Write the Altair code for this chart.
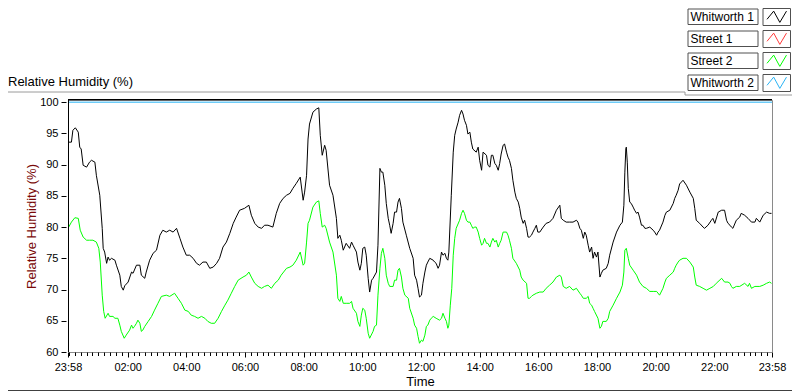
import altair as alt
import pandas as pd

# ---------------- data ----------------
series_names = ["Whitworth 1", "Street 1", "Street 2", "Whitworth 2"]
series_colors = ["#000000", "#ff3b3b", "#00ff00", "#2ab4f5"]

x_tick_labels = ["23:58", "02:00", "04:00", "06:00", "08:00", "10:00", "12:00",
                 "14:00", "16:00", "18:00", "20:00", "22:00", "23:58"]
y_ticks = [60, 65, 70, 75, 80, 85, 90, 95, 100]

# (minutes after 23:58 start, relative humidity %)
whitworth1 = [
    (0, 93.6), (7, 93.6), (10, 95.5), (15, 95.9), (21, 95.2), (24, 92.8), (27, 92.5), (31, 89.9),
    (38, 89.6), (44, 90.4), (48, 90.7), (55, 90.4), (58, 88.3), (65, 85.1), (70, 79.8), (72, 76.6),
    (75, 76.0), (79, 74.2), (82, 75.2), (85, 74.7), (89, 75.0), (96, 74.7), (99, 73.9), (106, 72.3),
    (109, 70.5), (113, 69.9), (116, 70.6), (123, 71.2), (130, 72.8), (133, 72.6), (140, 73.9),
    (147, 73.9), (150, 72.3), (157, 71.8), (160, 72.8), (167, 74.7), (174, 75.8), (181, 76.3),
    (188, 78.7), (194, 79.5), (201, 79.2), (208, 79.5), (215, 79.2), (222, 79.8), (229, 78.2),
    (235, 76.8), (242, 75.5), (249, 75.5), (256, 75.0), (263, 74.2), (269, 73.9), (276, 74.4),
    (283, 74.4), (290, 73.4), (297, 73.6), (304, 74.2), (310, 75.0), (317, 76.8), (324, 77.6),
    (331, 79.0), (338, 80.6), (344, 81.6), (351, 82.7), (361, 83.0), (370, 83.5), (375, 81.9),
    (382, 80.6), (389, 80.0), (396, 79.8), (402, 80.3), (409, 80.3), (419, 80.0), (426, 82.2),
    (433, 83.8), (440, 84.6), (447, 85.1), (454, 85.4), (460, 86.2), (467, 87.0), (475, 88.0),
    (481, 84.3), (484, 85.6), (488, 88.3), (491, 94.1), (494, 96.5),
    (501, 98.4), (508, 98.9), (513, 99.1), (516, 94.7), (520, 91.5), (525, 93.1), (528, 92.3),
    (535, 86.7), (542, 85.1), (549, 81.4), (552, 78.2), (556, 78.7), (559, 77.9), (563, 76.3),
    (569, 77.4), (576, 76.6), (580, 77.6), (583, 77.1), (590, 76.0), (593, 74.4), (597, 73.1),
    (600, 74.2), (603, 76.6), (607, 76.8), (610, 75.5), (614, 71.8), (617, 69.6), (621, 71.5),
    (624, 71.8), (631, 72.8), (634, 77.1), (638, 89.4), (641, 88.8), (644, 88.8), (648, 86.7),
    (651, 83.8), (655, 81.4), (658, 80.3), (661, 79.0), (665, 80.6), (668, 82.4), (672, 82.4),
    (675, 84.0), (678, 84.6), (682, 83.0), (685, 80.8), (692, 78.7), (699, 76.6), (706, 75.0),
    (709, 72.3), (713, 71.5), (716, 70.2), (719, 68.8), (723, 69.1), (726, 71.0), (730, 72.8),
    (733, 73.9), (736, 74.4), (740, 75.0), (747, 74.7), (750, 74.4), (753, 74.2), (757, 73.4),
    (760, 73.9), (764, 76.0), (767, 75.5), (771, 75.8), (774, 75.0), (777, 74.7), (779, 76.0),
    (784, 85.1), (788, 92.0), (791, 94.7), (794, 95.7), (798, 96.8), (801, 97.9), (805, 98.7),
    (808, 98.1), (811, 97.1), (815, 96.3), (818, 94.9), (822, 95.2), (825, 93.6), (828, 92.5),
    (835, 92.0), (839, 92.8), (842, 90.7), (846, 89.1), (849, 92.0), (856, 91.5), (859, 89.9),
    (863, 89.6), (866, 91.5), (869, 91.5), (873, 90.2), (876, 89.9), (880, 89.1), (883, 90.2),
    (886, 91.7), (890, 93.1), (893, 93.3), (897, 92.0), (900, 91.2), (903, 90.7), (907, 89.4),
    (910, 87.5), (914, 85.6), (917, 84.6), (921, 84.0), (924, 83.0), (927, 81.6), (931, 80.6),
    (934, 81.1), (938, 79.8), (941, 78.4), (944, 78.4), (948, 78.7), (951, 79.2), (955, 79.8),
    (958, 80.3), (961, 79.2), (965, 79.2), (972, 80.0), (978, 80.6),
    (985, 80.8), (992, 81.4), (999, 82.7), (1006, 83.5), (1009, 81.4), (1013, 81.1), (1019, 80.8),
    (1026, 80.8), (1033, 80.8), (1040, 81.1), (1043, 80.8), (1047, 79.8), (1050, 79.5),
    (1054, 78.2), (1057, 79.2), (1060, 78.7), (1064, 77.1), (1067, 76.0), (1071, 76.8),
    (1074, 75.0), (1077, 76.0), (1081, 75.2), (1084, 76.0), (1088, 72.0), (1091, 72.6),
    (1094, 73.1), (1101, 73.4), (1105, 74.2), (1108, 75.5), (1115, 77.6), (1122, 79.2),
    (1129, 80.3), (1134, 80.8), (1137, 83.5), (1139, 88.8), (1141, 92.5), (1142, 92.8),
    (1144, 90.4), (1146, 86.2), (1149, 84.0), (1152, 83.8), (1156, 83.2), (1159, 82.7),
    (1163, 82.2), (1166, 82.4), (1169, 81.6), (1173, 80.3), (1176, 80.3), (1180, 79.8),
    (1183, 79.8), (1190, 80.0), (1197, 79.5), (1200, 79.2), (1204, 78.7), (1207, 79.2),
    (1210, 79.5), (1217, 80.8), (1221, 81.9), (1224, 82.4), (1231, 82.7), (1238, 83.8),
    (1241, 84.6), (1244, 85.1), (1248, 85.9), (1251, 86.9), (1258, 87.5), (1265, 86.7),
    (1272, 85.6), (1279, 84.6), (1282, 83.0), (1285, 81.1), (1292, 80.6), (1299, 80.0),
    (1302, 79.8), (1309, 80.3), (1316, 81.1), (1319, 81.4), (1323, 80.6), (1330, 82.4),
    (1337, 82.7), (1343, 82.7), (1347, 81.1), (1350, 80.6), (1354, 80.3), (1357, 80.0),
    (1360, 79.8), (1367, 81.1), (1374, 81.6), (1377, 82.2), (1384, 81.9), (1391, 81.4),
    (1398, 80.8), (1405, 80.8), (1408, 81.4), (1415, 80.8), (1422, 81.9), (1429, 82.4),
    (1435, 82.2), (1439, 82.2),
]

street2 = [
    (0, 79.8), (7, 80.8), (14, 81.5), (21, 81.4), (25, 79.5), (31, 78.4), (38, 77.9), (44, 77.9),
    (51, 77.9), (58, 77.6), (63, 76.6), (66, 74.4), (70, 69.1), (73, 66.5), (76, 65.4), (82, 66.2),
    (85, 65.7), (92, 65.7), (96, 65.4), (102, 65.4), (106, 64.3), (109, 63.3), (115, 62.2),
    (119, 62.7), (126, 63.5), (130, 64.3), (133, 63.8), (136, 64.1), (140, 64.6), (143, 65.1),
    (147, 64.6), (150, 63.3), (153, 63.5), (157, 64.1), (164, 64.9), (171, 65.7), (177, 66.7),
    (184, 67.8), (191, 68.9), (201, 69.1), (208, 68.9), (218, 69.4), (225, 68.6), (232, 67.8),
    (239, 66.7), (246, 66.5), (252, 65.9), (259, 65.7), (266, 65.4), (273, 65.7), (280, 65.4),
    (286, 64.9), (293, 64.6), (300, 64.6), (307, 65.4), (314, 66.5), (321, 67.5), (327, 68.3),
    (334, 69.4), (341, 70.5), (348, 71.5), (358, 72.0), (365, 72.3), (370, 72.8), (375, 72.0),
    (382, 71.0), (389, 70.5), (396, 70.2), (402, 70.5), (409, 70.7), (416, 70.2), (423, 71.0),
    (430, 71.5), (436, 72.3), (447, 73.4), (454, 73.6), (460, 73.9), (467, 74.7), (475, 76.0),
    (481, 73.9), (484, 74.2), (488, 77.6), (491, 80.6), (494, 81.1),
    (501, 83.2), (508, 84.0), (513, 84.2), (516, 82.2), (520, 80.0), (525, 80.3), (528, 79.8),
    (535, 77.6), (542, 76.0), (549, 72.3), (552, 68.6), (556, 68.1), (559, 68.9), (563, 67.8),
    (569, 67.8), (576, 67.8), (580, 68.1), (583, 67.0), (590, 66.2), (593, 64.9), (597, 64.1),
    (600, 65.9), (603, 67.0), (607, 66.7), (610, 65.4), (614, 63.0), (617, 62.2), (624, 63.3),
    (627, 64.1), (631, 64.3), (634, 69.1), (638, 73.4), (641, 75.8), (644, 76.6), (648, 75.0),
    (651, 72.3), (655, 71.0), (658, 70.5), (665, 70.5), (668, 71.5), (672, 71.5), (675, 73.1),
    (678, 73.4), (682, 72.0), (685, 70.2), (689, 69.1), (696, 68.6), (699, 67.0), (706, 65.4),
    (709, 64.3), (713, 63.8), (716, 62.5), (719, 61.4), (723, 61.9), (726, 61.7), (730, 62.7),
    (733, 64.1), (736, 64.3), (740, 65.1), (743, 65.4), (747, 65.7), (753, 65.4), (760, 65.1),
    (764, 65.4), (767, 66.2), (771, 65.4), (774, 64.9), (777, 63.8), (779, 64.3), (782, 67.5),
    (785, 70.2), (788, 75.5), (791, 78.2), (794, 79.8), (801, 81.1), (805, 82.2), (808, 82.7),
    (811, 82.2), (815, 81.1), (818, 80.8), (822, 80.8), (825, 80.3), (828, 79.8), (832, 80.0),
    (835, 80.0), (839, 79.2), (842, 78.2), (846, 77.1), (849, 77.4), (852, 78.2), (856, 77.4),
    (859, 77.4), (863, 76.8), (866, 77.6), (869, 78.2), (873, 77.6), (876, 77.9), (880, 76.8),
    (883, 77.4), (886, 77.9), (890, 79.2), (897, 79.2), (900, 78.7), (903, 77.9), (907, 76.6),
    (910, 75.0), (917, 74.2), (924, 73.1), (927, 72.0), (931, 71.5), (938, 71.0), (941, 68.6),
    (944, 68.6), (948, 68.9), (951, 69.1), (958, 69.4), (965, 69.6), (972, 69.6), (978, 70.2),
    (985, 70.7), (992, 71.2), (999, 72.0), (1006, 72.3), (1009, 72.0), (1013, 70.5), (1019, 70.2),
    (1026, 70.5), (1033, 69.9), (1040, 70.2), (1047, 69.4), (1050, 69.1), (1054, 68.6),
    (1060, 68.6), (1064, 68.9), (1067, 67.8), (1071, 67.5), (1074, 67.0), (1077, 66.5),
    (1084, 65.4), (1088, 63.8), (1091, 64.1), (1094, 64.9), (1101, 64.9), (1105, 65.4),
    (1108, 66.5), (1115, 67.5), (1122, 68.6), (1129, 69.6), (1134, 70.7), (1137, 72.8),
    (1139, 76.3), (1142, 76.6), (1146, 75.0), (1149, 73.9), (1156, 73.1), (1163, 72.3),
    (1169, 71.2), (1176, 70.5), (1183, 70.2), (1190, 69.7), (1197, 69.7), (1204, 69.7),
    (1210, 69.1), (1217, 70.2), (1221, 71.2), (1224, 71.8), (1231, 72.3), (1238, 72.8),
    (1241, 73.4), (1244, 73.9), (1248, 74.4), (1251, 74.7), (1258, 75.0), (1265, 75.0),
    (1272, 74.4), (1279, 73.6), (1282, 72.0), (1285, 70.7), (1292, 70.5), (1299, 70.2),
    (1306, 69.9), (1313, 70.2), (1320, 70.5), (1326, 71.0), (1337, 71.8), (1343, 71.2),
    (1350, 71.2), (1354, 71.0), (1357, 70.5), (1360, 70.2), (1367, 70.5), (1374, 70.5),
    (1384, 71.0), (1391, 70.5), (1394, 71.0), (1398, 70.2), (1405, 70.5), (1415, 70.5),
    (1422, 70.7), (1429, 71.0), (1435, 71.2), (1439, 71.0),
]

whitworth2 = [(0, 100.0), (1440, 100.0)]
street1 = []  # not visible in the chart

# ---------------- build table ----------------
start = pd.Timestamp("2024-01-01 23:58")
rows = []
for name, readings in zip(series_names, [whitworth1, street1, street2, whitworth2]):
    for m, v in readings:
        rows.append({"time": start + pd.Timedelta(minutes=m), "rh": v, "series": name})
df = pd.DataFrame(rows)


def dt(ts):
    return alt.DateTime(year=ts.year, month=ts.month, date=ts.day,
                        hours=ts.hour, minutes=ts.minute)


end = start + pd.Timedelta(minutes=1440)
major = [start]
for lab in x_tick_labels[1:-1]:
    h, mi = map(int, lab.split(":"))
    major.append(pd.Timestamp(2024, 1, 2, h, mi))
major.append(end)
major_vals = [dt(t) for t in major]
minor_vals = [dt(t) for t in pd.date_range("2024-01-02 00:00", "2024-01-02 23:48", freq="12min")]

W, H = 704, 252
FONT = "Liberation Sans"

x_scale = alt.Scale(domain=[dt(start), dt(end)])
y_scale = alt.Scale(domain=[60, 100.35], nice=False, zero=False)

lines = alt.Chart(df).mark_line(strokeWidth=1, clip=True).encode(
    x=alt.X("time:T", scale=x_scale,
            axis=alt.Axis(values=major_vals, format="%H:%M", labelOverlap=False,
                          labelFlush=False, tickSize=5, tickColor="#000000",
                          domainColor="#8a8a8a", labelColor="#000000", labelFont=FONT,
                          labelFontSize=11, labelPadding=4, grid=False, orient="bottom",
                          title="Time", titleFont=FONT, titleFontSize=13,
                          titleFontWeight="normal", titleColor="#000000", titlePadding=3)),
    y=alt.Y("rh:Q", scale=y_scale,
            axis=alt.Axis(values=y_ticks, tickSize=5, offset=2, domain=False,
                          tickColor="#000000", labelColor="#000000", labelFont=FONT,
                          labelFontSize=11, labelPadding=3, grid=False,
                          title="Relative Humidity (%)", titleFont=FONT, titleFontSize=13,
                          titleFontWeight="normal", titleColor="#7a0a0a",
                          titleX=-35, titleY=H / 2, titleAlign="center",
                          titleBaseline="middle", titleAngle=270)),
    color=alt.Color("series:N", scale=alt.Scale(domain=series_names, range=series_colors),
                    legend=None),
    detail="series:N",
)

minor = alt.Chart(df).mark_tick(opacity=0).encode(
    x=alt.X("time:T", scale=x_scale,
            axis=alt.Axis(values=minor_vals, labels=False, domain=False, tickSize=3.5,
                          tickColor="#000000", grid=False, orient="bottom", title=None)),
)

one = pd.DataFrame({"k": [0]})


def hrule(x1, x2, y, color, sw=1):
    return alt.Chart(one).mark_rule(color=color, strokeWidth=sw).encode(
        x=alt.value(x1), x2=alt.value(x2), y=alt.value(y))


def vrule(x, y1, y2, color, sw=1):
    return alt.Chart(one).mark_rule(color=color, strokeWidth=sw).encode(
        x=alt.value(x), y=alt.value(y1), y2=alt.value(y2))


deco = [
    hrule(0, W, -0.3, "#000000", 1.2),       # top border
    vrule(0.5, 0, H, "#000000", 1),          # left border
    hrule(-60, 617, -8, "#9a9a9a"),          # title separator
    vrule(617, -8, -5, "#9a9a9a"),
    hrule(617, 724, -5, "#9a9a9a"),
    hrule(-60, 724, 290.5, "#404040"),       # panel frame bottom
]

title = alt.Chart(one).mark_text(align="left", baseline="alphabetic", font=FONT,
                                 fontSize=13, color="#000000").encode(
    x=alt.value(-60), y=alt.value(-14), text=alt.value("Relative Humidity (%)"))

legend_layers = []
zig = "M-0.95,0.25L-0.3,-0.55L0.3,0.55L0.95,-0.55"
for i, (name, color) in enumerate(zip(series_names, series_colors)):
    top = -91 + i * 22
    bot = top + 15.5
    mid = (top + bot) / 2
    ld = pd.DataFrame({"name": [name]})
    legend_layers.append(alt.Chart(ld).mark_rect(fill="#ffffff", stroke="#505050", strokeWidth=1)
                         .encode(x=alt.value(620), x2=alt.value(690), y=alt.value(top), y2=alt.value(bot)))
    legend_layers.append(alt.Chart(ld).mark_text(align="left", baseline="middle", font=FONT,
                                                 fontSize=12, color="#000000")
                         .encode(x=alt.value(622.5), y=alt.value(mid + 0.5), text="name:N"))
    legend_layers.append(alt.Chart(ld).mark_rect(fill="#ffffff", stroke="#505050", strokeWidth=1)
                         .encode(x=alt.value(695), x2=alt.value(722.5), y=alt.value(top - 0.5), y2=alt.value(bot + 1)))
    legend_layers.append(alt.Chart(ld).mark_point(shape=zig, filled=False, size=420, strokeWidth=1,
                                                  color=color, opacity=1)
                         .encode(x=alt.value(708.75), y=alt.value(mid)))

chart = alt.layer(lines, minor, *deco, title, *legend_layers).resolve_axis(
    x="independent"
).resolve_scale(x="shared").properties(
    width=W, height=H,
    padding={"left": 60, "top": 92, "right": 20, "bottom": 39},
    autosize=alt.AutoSizeParams(type="none"),
    background="#ffffff",
).configure_view(stroke="#8a8a8a", strokeWidth=1)

chart.save("out.html", embed_options={"renderer": "svg", "actions": False})
